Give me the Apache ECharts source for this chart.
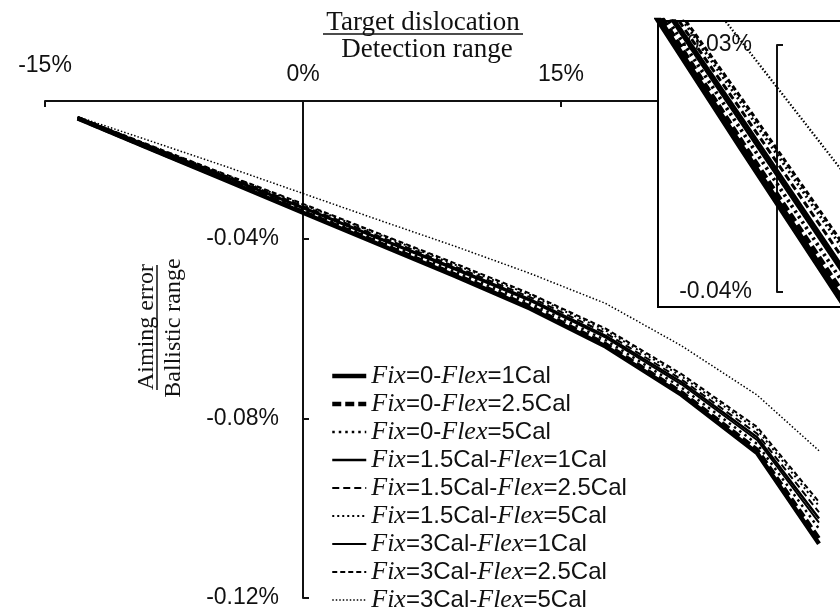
<!DOCTYPE html>
<html><head><meta charset="utf-8">
<script src="https://cdn.jsdelivr.net/npm/echarts@6/dist/echarts.min.js"></script>
<style>html,body{margin:0;padding:0;background:#fff}#c{width:840px;height:611px}</style>
</head><body><div id="c"></div>
<script>
// Detection-range fraction (%) of each computed point
const xValues = [-13.1, -8.8, -4.4, 0, 4.4, 8.8, 13.2, 17.6, 22, 26.4, 30];

const seriesNames = [
  'Fix=0-Flex=1Cal',
  'Fix=0-Flex=2.5Cal',
  'Fix=0-Flex=5Cal',
  'Fix=1.5Cal-Flex=1Cal',
  'Fix=1.5Cal-Flex=2.5Cal',
  'Fix=1.5Cal-Flex=5Cal',
  'Fix=3Cal-Flex=1Cal',
  'Fix=3Cal-Flex=2.5Cal',
  'Fix=3Cal-Flex=5Cal'
];

// Aiming error / ballistic range (%)
const fix0flex1   = [-0.0132, -0.0201, -0.0271, -0.0342, -0.0412, -0.0482, -0.0555, -0.0640, -0.0747, -0.0877, -0.1079];
const fix0flex25  = [-0.0131, -0.0200, -0.0269, -0.0340, -0.0409, -0.0479, -0.0551, -0.0635, -0.0742, -0.0870, -0.1068];
const fix0flex5   = [-0.0131, -0.0198, -0.0266, -0.0335, -0.0404, -0.0472, -0.0543, -0.0626, -0.0731, -0.0857, -0.1046];
const fix15flex1  = [-0.0130, -0.0196, -0.0263, -0.0330, -0.0398, -0.0465, -0.0535, -0.0616, -0.0719, -0.0842, -0.1023];
const fix15flex25 = [-0.0129, -0.0195, -0.0261, -0.0327, -0.0394, -0.0461, -0.0530, -0.0610, -0.0713, -0.0834, -0.1009];
const fix15flex5  = [-0.0129, -0.0194, -0.0259, -0.0324, -0.0390, -0.0457, -0.0525, -0.0604, -0.0706, -0.0825, -0.0995];
const fix3flex1   = [-0.0130, -0.0197, -0.0264, -0.0332, -0.0400, -0.0468, -0.0538, -0.0620, -0.0724, -0.0848, -0.1032];
const fix3flex25  = [-0.0129, -0.0193, -0.0258, -0.0322, -0.0388, -0.0454, -0.0522, -0.0600, -0.0701, -0.0819, -0.0986];
const fix3flex5   = [-0.0128, -0.0183, -0.0240, -0.0299, -0.0358, -0.0416, -0.0477, -0.0544, -0.0638, -0.0748, -0.0872];

const seriesValues = [fix0flex1, fix0flex25, fix0flex5, fix15flex1, fix15flex25, fix15flex5, fix3flex1, fix3flex25, fix3flex5];

// tick labels
const xTickLabels = ['-15%', '0%', '15%', '30%'];
const yTickLabels = ['-0.12%', '-0.08%', '-0.04%'];
const insetTickLabels = ['-0.04%', '-0.03%'];

const lineStyles = [
  {width: 4.5, type: 'solid'},
  {width: 4.5, type: [9, 4]},
  {width: 2.5, type: [2.5, 4]},
  {width: 2.5, type: 'solid'},
  {width: 2, type: [7, 4]},
  {width: 2, type: [2, 3]},
  {width: 2, type: 'solid'},
  {width: 2, type: [5, 3]},
  {width: 1.5, type: [1.5, 2]}
];

const AX = '#111';
const chart = echarts.init(document.getElementById('c'), null, {renderer: 'canvas'});

const series = [];
seriesNames.forEach((name, i) => {
  const data = xValues.map((x, k) => [x, seriesValues[i][k]]);
  series.push({
    type: 'line', name, xAxisIndex: 0, yAxisIndex: 0, data,
    symbol: 'none', showSymbol: false, z: 2,
    itemStyle: {color: '#000'},
    lineStyle: {color: '#000', width: lineStyles[i].width, type: lineStyles[i].type},
    emphasis: {disabled: true}
  });
});
seriesNames.forEach((name, i) => {
  const data = xValues.map((x, k) => [x, seriesValues[i][k]]);
  series.push({
    type: 'line', name, xAxisIndex: 1, yAxisIndex: 1, data,
    symbol: 'none', showSymbol: false, z: 12,
    itemStyle: {color: '#000'},
    lineStyle: {color: '#000', width: lineStyles[i].width * 1.5, type: lineStyles[i].type},
    emphasis: {disabled: true}
  });
});

const pct2 = v => v.toFixed(2) + '%';
const tickStyle = {inside: true, length: 6, lineStyle: {color: AX, width: 2}};
const lineStyleAx = {color: AX, width: 2};

const option = {
  animation: false,
  backgroundColor: '#fff',
  grid: [
    {left: 45, top: 101, width: 774, height: 497, containLabel: false, outerBoundsMode: 'none'},
    {left: 658, top: 21, width: 200, height: 286, show: true, backgroundColor: '#fff',
     borderColor: '#000', borderWidth: 2, z: 10, containLabel: false, outerBoundsMode: 'none'},
    {left: 777, top: 45, width: 60, height: 247, z: 11, containLabel: false, outerBoundsMode: 'none'},
    {left: 303, top: 101, width: 516, height: 497, containLabel: false, outerBoundsMode: 'none'}
  ],
  xAxis: [
    {type: 'value', gridIndex: 0, position: 'top', min: -15, max: 30, interval: 15,
     axisLine: {onZero: true, lineStyle: lineStyleAx},
     axisTick: tickStyle,
     splitLine: {show: false},
     axisLabel: {
       margin: 15, color: AX, fontSize: 23, fontFamily: 'Liberation Sans', showMaxLabel: false,
       formatter: v => {
         const idx = Math.round((v + 15) / 15);
         const t = xTickLabels[idx] || (v + '%');
         return idx === 0 ? '{hi|' + t + '}' : t;
       },
       rich: {hi: {fontSize: 23, fontFamily: 'Liberation Sans', color: AX, padding: [0, 0, 9, 0]}}
     }},
    {type: 'value', gridIndex: 1, min: -3.26, max: 4.49, show: false},
    {type: 'value', gridIndex: 2, min: 0, max: 1, show: false},
    {type: 'value', gridIndex: 3, min: 0, max: 1, show: false}
  ],
  yAxis: [
    {type: 'value', gridIndex: 0, min: -0.12, max: -0.0093, interval: 0.04, show: false},
    {type: 'value', gridIndex: 1, min: -0.04061, max: -0.02903, show: false},
    {type: 'value', gridIndex: 2, min: -0.04, max: -0.03, interval: 0.01, z: 11,
     axisLine: {onZero: false, lineStyle: lineStyleAx},
     axisTick: tickStyle,
     splitLine: {show: false},
     axisLabel: {margin: 25, color: AX, fontSize: 23, fontFamily: 'Liberation Sans',
       formatter: v => {
         const idx = Math.round((v + 0.04) / 0.01);
         return insetTickLabels[idx] || pct2(v);
       }}},
    {type: 'value', gridIndex: 3, min: -0.12, max: -0.0093, interval: 0.04,
     axisLine: {onZero: false, lineStyle: lineStyleAx},
     axisTick: tickStyle,
     splitLine: {show: false},
     axisLabel: {margin: 24, color: AX, fontSize: 23, fontFamily: 'Liberation Sans', showMaxLabel: false,
       formatter: v => {
         const idx = Math.round((v + 0.12) / 0.04);
         return yTickLabels[idx] || pct2(v);
       }}}
  ],
  legend: {
    orient: 'vertical', left: 330, top: 363, height: 320, padding: 0,
    itemWidth: 34, itemHeight: 14, itemGap: 2,
    data: seriesNames, selectedMode: false,
    itemStyle: {opacity: 0},
    lineStyle: {width: 'inherit'},
    textStyle: {color: AX, fontSize: 24,
      rich: {
        i: {fontFamily: 'Liberation Serif', fontStyle: 'italic', fontSize: 26, color: AX},
        n: {fontFamily: 'Liberation Sans', fontSize: 24, color: AX}
      }},
    formatter: name => {
      const m = name.match(/^Fix(=.*-)Flex(=.*)$/);
      return '{i|Fix}{n|' + m[1] + '}{i|Flex}{n|' + m[2] + '}';
    }
  },
  graphic: [
    {type: 'text', z: 20, style: {text: 'Target dislocation', x: 423, y: 23, align: 'center', verticalAlign: 'middle',
      fontSize: 27, fontFamily: 'Liberation Serif', fill: AX}},
    {type: 'line', z: 20, shape: {x1: 323, y1: 34, x2: 523, y2: 34}, style: {stroke: AX, lineWidth: 1.5}},
    {type: 'text', z: 20, style: {text: 'Detection range', x: 427, y: 50, align: 'center', verticalAlign: 'middle',
      fontSize: 27, fontFamily: 'Liberation Serif', fill: AX}},
    {type: 'text', z: 20, x: 147, y: 327, rotation: Math.PI / 2,
      style: {text: 'Aiming error', x: 0, y: 0, align: 'center', verticalAlign: 'middle',
      fontSize: 24, fontFamily: 'Liberation Serif', fill: AX}},
    {type: 'line', z: 20, shape: {x1: 157, y1: 265, x2: 157, y2: 390}, style: {stroke: AX, lineWidth: 1.5}},
    {type: 'text', z: 20, x: 174, y: 328, rotation: Math.PI / 2,
      style: {text: 'Ballistic range', x: 0, y: 0, align: 'center', verticalAlign: 'middle',
      fontSize: 24, fontFamily: 'Liberation Serif', fill: AX}}
  ],
  series
};
chart.setOption(option);
</script></body></html>
